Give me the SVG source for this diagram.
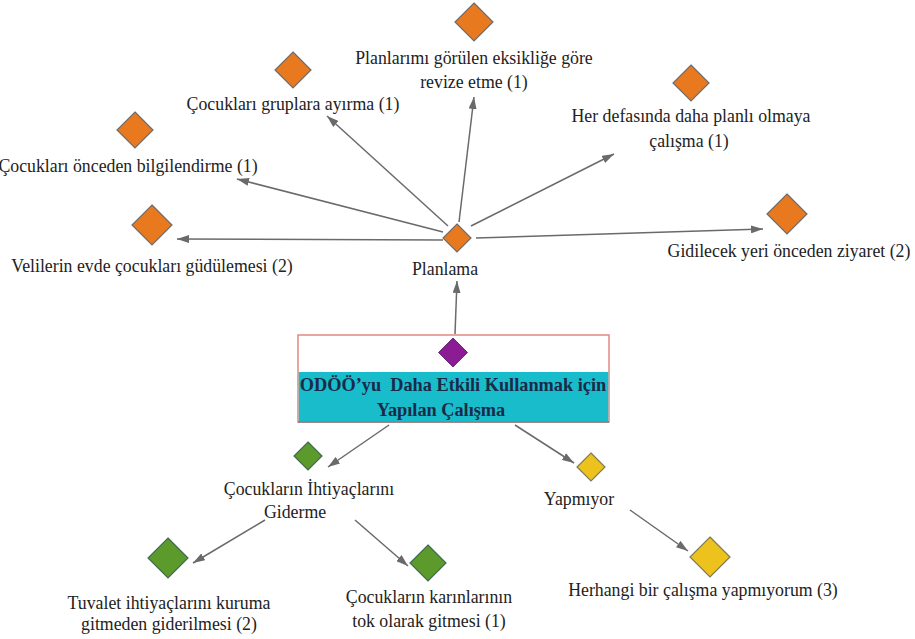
<svg xmlns="http://www.w3.org/2000/svg" width="915" height="639" viewBox="0 0 915 639">
  <style>
    .lbl { font-family: "Liberation Serif", "Times New Roman", serif; font-size: 17.8px; fill: #222; text-anchor: middle; }
    .core { font-family: "Liberation Serif", "Times New Roman", serif; font-size: 18.3px; font-weight: bold; fill: #1b2a48; text-anchor: middle; }
    .edge { stroke: #6a6a6a; stroke-width: 1.5; fill: none; marker-end: url(#arrow); }
    .orange { fill: #e8791f; stroke: #6d6d6d; stroke-width: 1.2; }
    .green { fill: #5c9a2c; stroke: #3f6b52; stroke-width: 1.2; }
    .yellow { fill: #eec21c; stroke: #7a7a5a; stroke-width: 1.2; }
    .purple { fill: #8c1c94; stroke: #6a2a7a; stroke-width: 1; }
  </style>
  <defs>
    <marker id="arrow" viewBox="0 0 12 8" refX="12" refY="4" markerWidth="12" markerHeight="8" markerUnits="userSpaceOnUse" orient="auto">
      <path d="M0,0 L12,4 L0,8 Z" fill="#6a6a6a"/>
    </marker>
  </defs>
  <rect width="915" height="639" fill="#ffffff"/>

  <!-- connectors -->
  <g id="connectors">
    <line class="edge" x1="455" y1="334" x2="457" y2="281"/>
    <line class="edge" x1="459" y1="222" x2="474" y2="97"/>
    <line class="edge" x1="448" y1="226" x2="327" y2="116"/>
    <line class="edge" x1="443" y1="232" x2="237" y2="179"/>
    <line class="edge" x1="443" y1="240" x2="177" y2="239"/>
    <line class="edge" x1="471" y1="226" x2="614" y2="154"/>
    <line class="edge" x1="476" y1="238" x2="763" y2="229"/>
    <line class="edge" x1="389" y1="425" x2="328" y2="467"/>
    <line class="edge" x1="515" y1="425" x2="574" y2="463"/>
    <line class="edge" x1="265" y1="520" x2="193" y2="563"/>
    <line class="edge" x1="355" y1="520" x2="408" y2="566"/>
    <line class="edge" x1="630" y1="510" x2="688" y2="551"/>
  </g>

  <!-- central node -->
  <g id="core">
    <rect x="298" y="335" width="311" height="87" fill="#ffffff" stroke="#e08a80" stroke-width="1.5"/>
    <rect x="298.8" y="372" width="309.5" height="49.5" fill="#18bccb"/>
    <line x1="298" y1="422" x2="609" y2="422" stroke="#5a6a70" stroke-width="1"/>
    <polygon class="purple" points="453,338 467.5,352.5 453,367 438.5,352.5"/>
    <text class="core" x="453" y="391">ODÖÖ’yu&#160; Daha Etkili Kullanmak için</text>
    <text class="core" x="441" y="416">Yapılan Çalışma</text>
  </g>

  <g id="planlama">
    <polygon class="orange" points="457,224 471,238 457,252 443,238"/>
    <text class="lbl" x="445" y="275">Planlama</text>
  </g>

  <g id="revize">
    <polygon class="orange" points="474,3 493,22 474,41 455,22"/>
    <text class="lbl" x="474" y="64">Planlarımı görülen eksikliğe göre</text>
    <text class="lbl" x="474" y="88">revize etme (1)</text>
  </g>

  <g id="gruplara">
    <polygon class="orange" points="293,52 311,70 293,88 275,70"/>
    <text class="lbl" x="293" y="110">Çocukları gruplara ayırma (1)</text>
  </g>

  <g id="bilgilendirme">
    <polygon class="orange" points="135,112 153,130 135,148 117,130"/>
    <text class="lbl" x="128" y="172">Çocukları önceden bilgilendirme (1)</text>
  </g>

  <g id="veliler">
    <polygon class="orange" points="152,205 172,225 152,245 132,225"/>
    <text class="lbl" x="152" y="272">Velilerin evde çocukları güdülemesi (2)</text>
  </g>

  <g id="planli">
    <polygon class="orange" points="691,65 709,83 691,101 673,83"/>
    <text class="lbl" x="691" y="122">Her defasında daha planlı olmaya</text>
    <text class="lbl" x="689" y="147">çalışma (1)</text>
  </g>

  <g id="ziyaret">
    <polygon class="orange" points="787,194 807,214 787,234 767,214"/>
    <text class="lbl" x="789" y="257">Gidilecek yeri önceden ziyaret (2)</text>
  </g>

  <g id="ihtiyac">
    <polygon class="green" points="308,442 322,456 308,470 294,456"/>
    <text class="lbl" x="309" y="495">Çocukların İhtiyaçlarını</text>
    <text class="lbl" x="295" y="518">Giderme</text>
  </g>

  <g id="yapmiyor">
    <polygon class="yellow" points="591,453 605,467 591,481 577,467"/>
    <text class="lbl" x="579" y="505">Yapmıyor</text>
  </g>

  <g id="tuvalet">
    <polygon class="green" points="168,538 188,558 168,578 148,558"/>
    <text class="lbl" x="169" y="609">Tuvalet ihtiyaçlarını kuruma</text>
    <text class="lbl" x="169" y="630">gitmeden giderilmesi (2)</text>
  </g>

  <g id="tok">
    <polygon class="green" points="428,545 446,563 428,581 410,563"/>
    <text class="lbl" x="429" y="603">Çocukların karınlarının</text>
    <text class="lbl" x="429" y="627">tok olarak gitmesi (1)</text>
  </g>

  <g id="herhangi">
    <polygon class="yellow" points="710,537 730,557 710,577 690,557"/>
    <text class="lbl" x="703" y="596">Herhangi bir çalışma yapmıyorum (3)</text>
  </g>
</svg>
